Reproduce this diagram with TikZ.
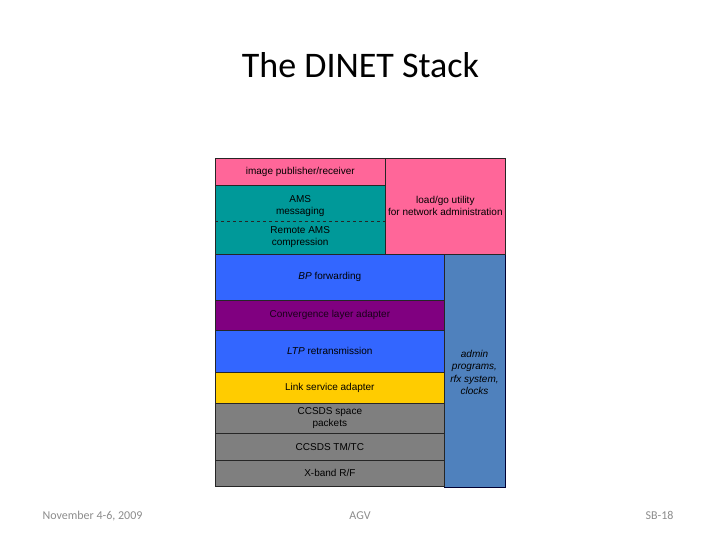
\documentclass[tikz,border=0pt]{standalone}
\usepackage{fontspec}
\setmainfont{Liberation Sans}
\newfontfamily\titlefont{Carlito}
\definecolor{cpink}{HTML}{FF6699}
\definecolor{cteal}{HTML}{009999}
\definecolor{cblue}{HTML}{3366FF}
\definecolor{cpurple}{HTML}{800080}
\definecolor{cyellow}{HTML}{FFCC00}
\definecolor{cgray}{HTML}{7F7F7F}
\definecolor{csteel}{HTML}{4F81BD}
\definecolor{cfoot}{HTML}{8C8C8C}
\tikzset{
  layer/.style={draw=black!85, line width=0.7pt, rectangle, anchor=north west, inner sep=0pt,
    align=center, font=\fontsize{10}{12}\selectfont, text=black},
  plain/.style={anchor=north west, inner sep=0pt, align=center, font=\fontsize{10}{12}\selectfont},
  foot/.style={font=\titlefont\fontsize{12}{14}\selectfont, text=cfoot, anchor=base}
}
\begin{document}
\begin{tikzpicture}[x=1pt,y=-1pt]
\useasboundingbox (0,0) rectangle (720,540);
\node[font=\titlefont\fontsize{36}{40}\selectfont, anchor=base] (title) at (360.5,78) {The DINET Stack};
% right columns
\node[layer, fill=csteel, draw=black!80!blue, minimum width=61pt, minimum height=233pt] (admin) at (444,254) {};
\node[font=\itshape\fontsize{10}{12.4}\selectfont, align=center] (admintext) at (474.5,372.5) {admin\\programs,\\rfx system,\\clocks};
\node[layer, fill=cpink, minimum width=120pt, minimum height=96pt] (load) at (385,158) {load/go utility\\for network administration};
% left stack
\node[layer, fill=cpink, minimum width=170pt, minimum height=27pt] (img) at (215,158) {image publisher/receiver};
\node[layer, fill=cteal, minimum width=170pt, minimum height=69pt] (teal) at (215,185) {};
\node[plain, minimum width=170pt, minimum height=35.5pt] (ams) at (215,185) {};
\node[plain, minimum width=170pt, minimum height=33.5pt] (rams) at (215,220.5) {Remote AMS\\compression};
\node[plain, anchor=center] (amstext) at ([yshift=-3pt]ams.center) {AMS\\messaging};
\draw[dashed, line width=0.7pt, black!85] (teal.west |- ams.south) -- (teal.east |- ams.south);
\node[layer, fill=cblue, minimum width=229pt, minimum height=46pt] (bp) at (215,254) {\textit{BP} forwarding};
\node[layer, fill=cpurple, minimum width=229pt, minimum height=30pt, text=black!80!cpurple] (cla) at (215,300) {Convergence layer adapter};
\node[layer, fill=cblue, minimum width=229pt, minimum height=42pt] (ltp) at (215,330) {\textit{LTP} retransmission};
\node[layer, fill=cyellow, minimum width=229pt, minimum height=31pt] (lsa) at (215,372) {Link service adapter};
\node[layer, fill=cgray, minimum width=229pt, minimum height=30pt] (ccsds) at (215,403) {CCSDS space\\packets};
\node[layer, fill=cgray, minimum width=229pt, minimum height=27pt] (tmtc) at (215,433) {CCSDS TM/TC};
\node[layer, fill=cgray, minimum width=229pt, minimum height=26pt] (xband) at (215,460) {X-band R/F};
% footer
\node[foot] (date) at (92.5,519) {November 4-6, 2009};
\node[foot] (agv) at (360,519) {AGV};
\node[foot, anchor=base east] (sb) at (677,519) {SB-18};
\end{tikzpicture}
\end{document}
